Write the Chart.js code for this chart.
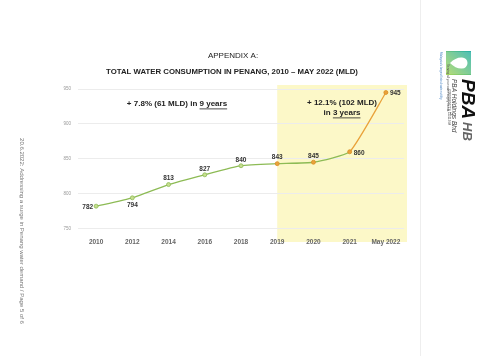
<!DOCTYPE html>
<html><head><meta charset="utf-8">
<script src="https://cdn.jsdelivr.net/npm/chart.js@4"></script>
<style>html,body{margin:0;padding:0;background:#fff}#wrap{width:500px;height:356px;position:relative}</style>
</head><body><div id="wrap"><canvas id="c" width="500" height="356"></canvas></div>
<script>
const categories = ["2010","2012","2014","2016","2018","2019","2020","2021","May 2022"];
const consumption = [782, 794, 813, 827, 840, 843, 845, 860, 945];
const yTicks = [750, 800, 850, 900, 950];
const labelPos = ["left","below","above","above","above","above","above","right","right"];

const GREEN = "#8dbb55", ORANGE = "#e9a23b";
const F = "'Liberation Sans', Arial, sans-serif";

const deco = {
  id: "deco",
  beforeDraw(chart) {
    const {ctx, scales:{x}} = chart;
    ctx.save();
    const x0 = x.getPixelForValue(5);
    ctx.fillStyle = "#fcf8c8";
    ctx.fillRect(x0, 85, 407 - x0, 157);
    ctx.restore();
  },
  afterDraw(chart) {
    const {ctx, scales:{x, y}} = chart;
    ctx.save();
    // titles
    ctx.fillStyle = "#222";
    ctx.textAlign = "center"; ctx.textBaseline = "middle";
    ctx.font = "8px " + F;
    ctx.fillText("APPENDIX A:", 233, 56);
    ctx.font = "bold 7.8px " + F;
    ctx.fillText("TOTAL WATER CONSUMPTION IN PENANG, 2010 – MAY 2022 (MLD)", 232, 72);
    // annotations
    ctx.font = "bold 8px " + F;
    const under = (pre, u, cx, cy) => {
      const w1 = ctx.measureText(pre).width, w2 = ctx.measureText(u).width;
      const sx = cx - (w1 + w2) / 2;
      ctx.textAlign = "left";
      ctx.fillText(pre, sx, cy);
      ctx.fillText(u, sx + w1, cy);
      ctx.fillRect(sx + w1, cy + 4.5, w2, 0.8);
    };
    under("+ 7.8% (61 MLD) in ", "9 years", 177, 104);
    ctx.textAlign = "center";
    ctx.fillText("+ 12.1% (102 MLD)", 342, 103);
    under("in ", "3 years", 342, 113);
    // data labels
    ctx.font = "bold 6.5px " + F;
    ctx.fillStyle = "#333";
    consumption.forEach((v, i) => {
      const px = x.getPixelForValue(i), py = y.getPixelForValue(v);
      const p = labelPos[i];
      if (p === "left") { ctx.textAlign = "right"; ctx.fillText(v, px - 3, py + 1); }
      else if (p === "right") { ctx.textAlign = "left"; ctx.fillText(v, px + 4, py + 1); }
      else if (p === "below") { ctx.textAlign = "center"; ctx.fillText(v, px, py + 7); }
      else { ctx.textAlign = "center"; ctx.fillText(v, px, py - 6); }
    });
    // side text
    ctx.save();
    ctx.translate(22, 231);
    ctx.rotate(Math.PI / 2);
    ctx.fillStyle = "#777";
    ctx.font = "6px " + F;
    ctx.textAlign = "center";
    ctx.fillText("20.6.2022: Addressing a surge in Penang water demand / Page 5 of 6", 0, 0);
    ctx.restore();
    // divider line
    ctx.strokeStyle = "#eeeeee"; ctx.lineWidth = 1;
    ctx.beginPath(); ctx.moveTo(420.5, 0); ctx.lineTo(420.5, 356); ctx.stroke();
    // logo
    const g = ctx.createLinearGradient(446, 75, 471, 51);
    g.addColorStop(0, "#a8d65a"); g.addColorStop(1, "#26b0a8");
    ctx.fillStyle = g;
    ctx.fillRect(446, 51, 25, 24);
    ctx.strokeStyle = "rgba(255,255,255,0.6)"; ctx.lineWidth = 0.6;
    for (let yy = 53; yy < 75; yy += 2) { ctx.beginPath(); ctx.moveTo(446, yy); ctx.lineTo(471, yy); ctx.stroke(); }
    ctx.fillStyle = "#fff";
    ctx.beginPath();
    ctx.moveTo(450, 63);
    ctx.quadraticCurveTo(456, 57, 462, 57.5);
    ctx.arc(462, 63, 5.5, -Math.PI / 2, Math.PI / 2);
    ctx.quadraticCurveTo(456, 69, 450, 63);
    ctx.fill();
    ctx.save();
    ctx.translate(464, 79);
    ctx.rotate(Math.PI / 2);
    ctx.textAlign = "left"; ctx.textBaseline = "middle";
    ctx.font = "italic bold 19px " + F;
    ctx.fillStyle = "#111";
    ctx.fillText("PBA", 0, -3);
    const wp = ctx.measureText("PBA").width;
    ctx.font = "italic bold 13px " + F;
    ctx.fillStyle = "#666";
    ctx.fillText("HB", wp + 3, -3);
    ctx.font = "italic 6.5px " + F;
    ctx.fillStyle = "#444";
    ctx.fillText("PBA Holdings Bhd", 0, 10);
    ctx.font = "3px " + F;
    ctx.fillText("(200001024711) 515119-M", 10, 15);
    ctx.restore();
    ctx.save();
    ctx.translate(441, 52);
    ctx.rotate(Math.PI / 2);
    ctx.textAlign = "left"; ctx.textBaseline = "middle";
    ctx.font = "3px " + F;
    ctx.fillStyle = "#4a86c5";
    ctx.fillText("Malaysia's largest listed water utility", 0, 0);
    ctx.fillStyle = "#555";
    ctx.fillText("Serving all your water supply needs", 12, -7);
    ctx.restore();
    ctx.restore();
  }
};

new Chart(document.getElementById("c"), {
  type: "line",
  data: {
    labels: categories,
    datasets: [{
      data: consumption,
      borderWidth: 1.3,
      borderColor: GREEN,
      segment: { borderColor: c => c.p0DataIndex >= 7 ? ORANGE : GREEN },
      pointRadius: 2,
      pointBorderWidth: 0.8,
      pointBackgroundColor: consumption.map((v, i) => i >= 5 ? ORANGE : "#c6de8e"),
      pointBorderColor: consumption.map((v, i) => i >= 5 ? "#d98f25" : GREEN),
      tension: 0.15
    }]
  },
  options: {
    responsive: false,
    animation: false,
    devicePixelRatio: 1,
    layout: { padding: { left: 0, right: 96, top: 89, bottom: 97.5 } },
    plugins: { legend: { display: false }, tooltip: { enabled: false } },
    scales: {
      x: {
        offset: true,
        grid: { display: false, drawTicks: false, tickLength: 0 },
        border: { display: false },
        ticks: { color: "#666", font: { size: 6.5, weight: "bold", family: F }, padding: 10, maxRotation: 0, autoSkip: false },
        afterFit: s => { s.height = 30; }
      },
      y: {
        min: 750, max: 950,
        afterBuildTicks: s => { s.ticks = yTicks.map(v => ({ value: v })); },
        grid: { color: "#ececec", lineWidth: 1, drawTicks: false },
        border: { display: false },
        ticks: { color: "#999", font: { size: 4.5, family: F }, padding: 7 },
        afterFit: s => { s.width = 78; }
      }
    }
  },
  plugins: [deco]
});
</script></body></html>
